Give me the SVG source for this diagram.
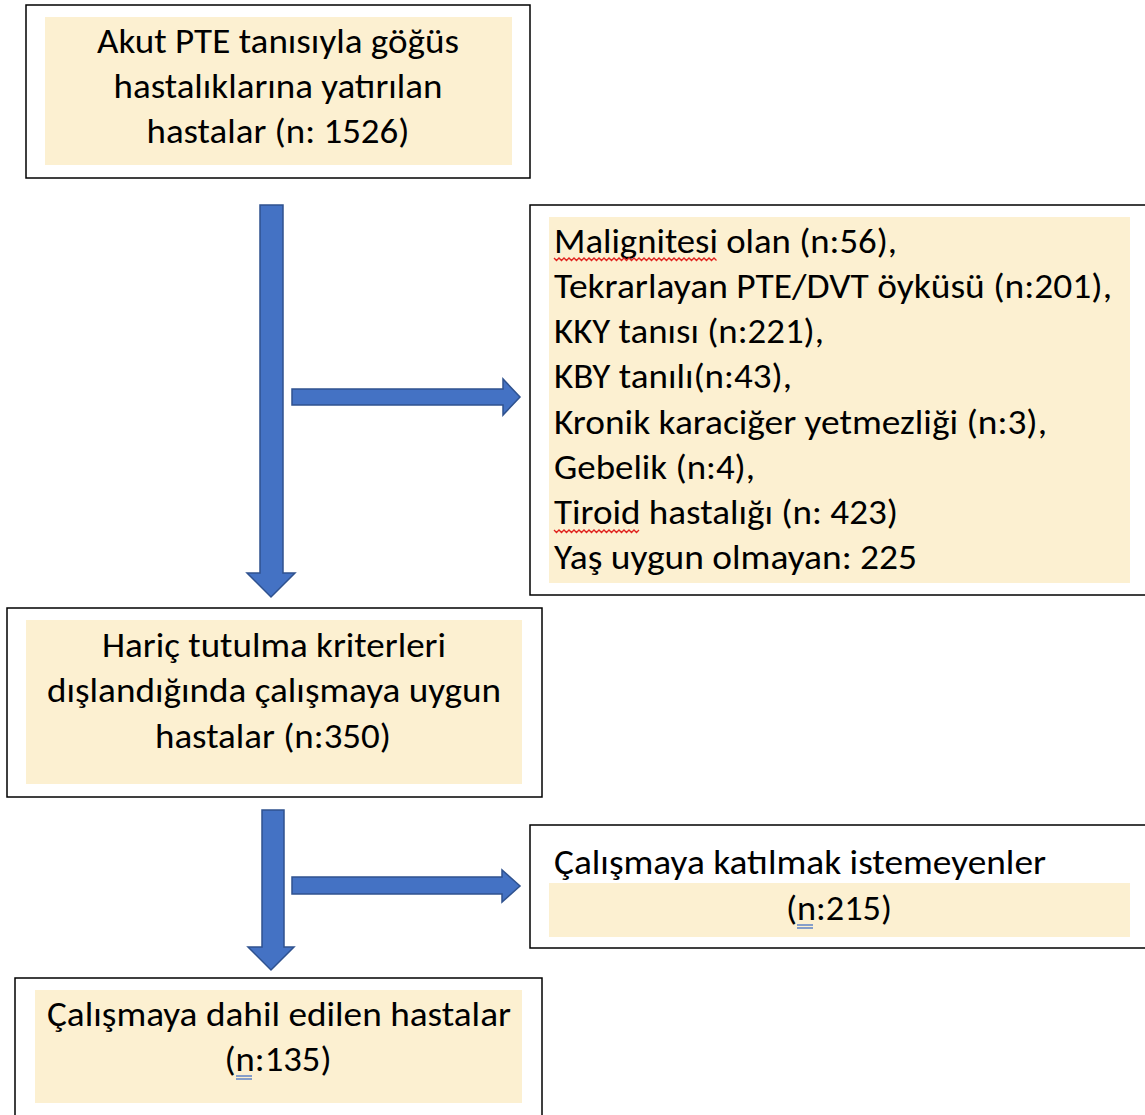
<svg xmlns="http://www.w3.org/2000/svg" width="1145" height="1115" viewBox="0 0 1145 1115">
<style>
.box{fill:#fff;stroke:#000;stroke-width:1.5}
.fill{fill:#FCF0D1}
.t{font-family:Carlito,Lato,"Liberation Sans",sans-serif;font-size:35px;fill:#000}
.c{text-anchor:middle}
.arr{fill:#4472C4;stroke:#2F528F;stroke-width:1.5}
.sq{fill:none;stroke:#E0201C;stroke-width:1.3}
.du{stroke:#4472C4;stroke-width:1.3}
</style>
<rect width="1145" height="1115" fill="#fff"/>
<g id="connectors">
<path class="arr" d="M260,205 H283 V573 H295 L271,597 L247,573 H260 Z"/>
<path class="arr" d="M292,389 H503 V379 L520,397 L503,415 V405 H292 Z"/>
<path class="arr" d="M262,810 H284 V947 H294 L271,970 L248,947 H262 Z"/>
<path class="arr" d="M292,877 H502 V870 L520,886 L502,902 V894 H292 Z"/>
</g>
<g id="node1">
<rect class="box" x="26" y="5" width="504" height="173"/>
<rect class="fill" x="45" y="17" width="467" height="148"/>
<text class="t c" x="278" y="53" textLength="362" lengthAdjust="spacingAndGlyphs">Akut PTE tanısıyla göğüs</text>
<text class="t c" x="278" y="98" textLength="329" lengthAdjust="spacingAndGlyphs">hastalıklarına yatırılan</text>
<text class="t c" x="278" y="143" textLength="263" lengthAdjust="spacingAndGlyphs">hastalar (n: 1526)</text>
</g>
<g id="node2">
<rect class="box" x="530" y="205" width="620" height="390"/>
<rect class="fill" x="549" y="217" width="581" height="366"/>
<text class="t" x="554" y="253" textLength="343" lengthAdjust="spacingAndGlyphs">Malignitesi olan (n:56),</text>
<text class="t" x="554" y="298" textLength="558" lengthAdjust="spacingAndGlyphs">Tekrarlayan PTE/DVT öyküsü (n:201),</text>
<text class="t" x="554" y="343" textLength="270" lengthAdjust="spacingAndGlyphs">KKY tanısı (n:221),</text>
<text class="t" x="554" y="388" textLength="238" lengthAdjust="spacingAndGlyphs">KBY tanılı(n:43),</text>
<text class="t" x="554" y="434" textLength="493" lengthAdjust="spacingAndGlyphs">Kronik karaciğer yetmezliği (n:3),</text>
<text class="t" x="554" y="479" textLength="201" lengthAdjust="spacingAndGlyphs">Gebelik (n:4),</text>
<text class="t" x="554" y="524" textLength="344" lengthAdjust="spacingAndGlyphs">Tiroid hastalığı (n: 423)</text>
<text class="t" x="554" y="569" textLength="363" lengthAdjust="spacingAndGlyphs">Yaş uygun olmayan: 225</text>
<path class="sq" d="M554,258 l2.5,2.5 l2.5,-2.5 l2.5,2.5 l2.5,-2.5 l2.5,2.5 l2.5,-2.5 l2.5,2.5 l2.5,-2.5 l2.5,2.5 l2.5,-2.5 l2.5,2.5 l2.5,-2.5 l2.5,2.5 l2.5,-2.5 l2.5,2.5 l2.5,-2.5 l2.5,2.5 l2.5,-2.5 l2.5,2.5 l2.5,-2.5 l2.5,2.5 l2.5,-2.5 l2.5,2.5 l2.5,-2.5 l2.5,2.5 l2.5,-2.5 l2.5,2.5 l2.5,-2.5 l2.5,2.5 l2.5,-2.5 l2.5,2.5 l2.5,-2.5 l2.5,2.5 l2.5,-2.5 l2.5,2.5 l2.5,-2.5 l2.5,2.5 l2.5,-2.5 l2.5,2.5 l2.5,-2.5 l2.5,2.5 l2.5,-2.5 l2.5,2.5 l2.5,-2.5 l2.5,2.5 l2.5,-2.5 l2.5,2.5 l2.5,-2.5 l2.5,2.5 l2.5,-2.5 l2.5,2.5 l2.5,-2.5 l2.5,2.5 l2.5,-2.5 l2.5,2.5 l2.5,-2.5 l2.5,2.5 l2.5,-2.5 l2.5,2.5 l2.5,-2.5 l2.5,2.5 l2.5,-2.5 l2.5,2.5 l2.5,-2.5 l2.5,2.5"/>
<path class="sq" d="M554,530 l2.5,2.5 l2.5,-2.5 l2.5,2.5 l2.5,-2.5 l2.5,2.5 l2.5,-2.5 l2.5,2.5 l2.5,-2.5 l2.5,2.5 l2.5,-2.5 l2.5,2.5 l2.5,-2.5 l2.5,2.5 l2.5,-2.5 l2.5,2.5 l2.5,-2.5 l2.5,2.5 l2.5,-2.5 l2.5,2.5 l2.5,-2.5 l2.5,2.5 l2.5,-2.5 l2.5,2.5 l2.5,-2.5 l2.5,2.5 l2.5,-2.5 l2.5,2.5 l2.5,-2.5 l2.5,2.5 l2.5,-2.5 l2.5,2.5 l2.5,-2.5 l2.5,2.5 l2.5,-2.5"/>
</g>
<g id="node3">
<rect class="box" x="7" y="608" width="535" height="189"/>
<rect class="fill" x="26" y="620" width="496" height="164"/>
<text class="t c" x="274" y="657" textLength="344" lengthAdjust="spacingAndGlyphs">Hariç tutulma kriterleri</text>
<text class="t c" x="274" y="702" textLength="454" lengthAdjust="spacingAndGlyphs">dışlandığında çalışmaya uygun</text>
<text class="t c" x="273" y="748" textLength="236" lengthAdjust="spacingAndGlyphs">hastalar (n:350)</text>
</g>
<g id="node4">
<rect class="box" x="530" y="825" width="620" height="123"/>
<rect class="fill" x="549" y="883" width="581" height="54"/>
<text class="t" x="554" y="874" textLength="492" lengthAdjust="spacingAndGlyphs">Çalışmaya katılmak istemeyenler</text>
<text class="t c" x="839" y="920" textLength="106" lengthAdjust="spacingAndGlyphs">(n:215)</text>
<line class="du" x1="797" y1="925" x2="813" y2="925"/>
<line class="du" x1="797" y1="928" x2="813" y2="928"/>
</g>
<g id="node5">
<rect class="box" x="15" y="978" width="527" height="145"/>
<rect class="fill" x="35" y="990" width="487" height="113"/>
<text class="t c" x="279" y="1026" textLength="464" lengthAdjust="spacingAndGlyphs">Çalışmaya dahil edilen hastalar</text>
<text class="t c" x="278" y="1071" textLength="107" lengthAdjust="spacingAndGlyphs">(n:135)</text>
<line class="du" x1="236" y1="1076" x2="252" y2="1076"/>
<line class="du" x1="236" y1="1079" x2="252" y2="1079"/>
</g>
</svg>
